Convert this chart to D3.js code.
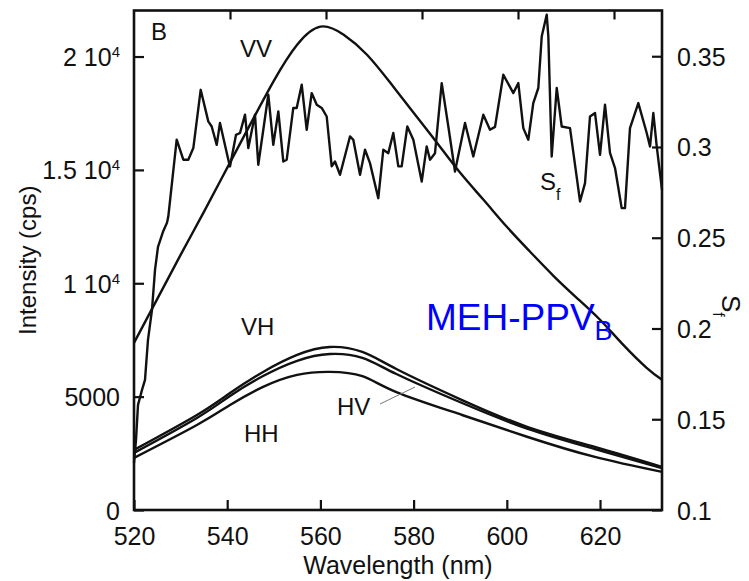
<!DOCTYPE html>
<html>
<head>
<meta charset="utf-8">
<script src="https://cdn.jsdelivr.net/npm/d3@7"></script>
<style>
  html, body { margin: 0; padding: 0; background: #fff; }
  svg text { font-family: "Liberation Sans", Arial, Helvetica, sans-serif; fill: #111; }
</style>
</head>
<body>
<svg id="chart" width="749" height="581"></svg>
<script>
// ---------------- DATA ----------------
const bottomTicks = [520, 540, 560, 580, 600, 620];
const topTicks = [540, 560, 580, 600, 620];
const leftTicks = [0, 5000, 10000, 15000, 20000];
const leftTickLabels = [["0", ""], ["5000", ""], ["1 10", "4"], ["1.5 10", "4"], ["2 10", "4"]];
const rightTicks = [0.1, 0.15, 0.2, 0.25, 0.3, 0.35];
const rightTickLabels = ["0.1", "0.15", "0.2", "0.25", "0.3", "0.35"];

// VV intensity (cps)
const vvWavelength = [520, 525, 530, 535, 540, 545, 550, 555, 560, 565, 570, 575, 580, 585, 590, 595, 600, 605, 610, 615, 620, 625, 630, 633.3];
const vvIntensity = [7370, 9310, 11250, 13150, 15090, 17030, 18930, 20520, 21320, 20960, 20080, 18840, 17520, 16200, 14870, 13680, 12490, 11390, 10330, 9360, 8390, 7280, 6270, 5740];

// VH, HV, HH intensity (cps)
const lowWavelength = [520, 533.5, 540.6, 547.7, 555, 562, 569, 576.3, 590.4, 604.5, 618.9, 633.3];
const vhIntensity = [2650, 4190, 5160, 6090, 6840, 7190, 6970, 6220, 4850, 3660, 2780, 1900];
const hvIntensity = [2520, 4060, 5030, 5910, 6580, 6880, 6710, 6000, 4720, 3580, 2690, 1850];
const hhIntensity = [2300, 3750, 4630, 5430, 5960, 6090, 5900, 5200, 4190, 3220, 2340, 1680];

// Sf (right axis)
const sfWavelength = [520.0, 520.43, 520.86, 521.72, 522.36, 523.0, 523.86, 524.51, 525.15, 526.22, 527.08, 527.36, 529.16, 530.58, 531.65, 532.73, 534.31, 535.94, 536.67, 537.75, 538.45, 540.24, 540.6, 541.89, 542.75, 543.82, 544.53, 545.96, 546.67, 548.82, 549.89, 550.97, 552.04, 552.77, 554.18, 554.91, 555.99, 557.06, 558.13, 559.21, 560.28, 561.35, 562.42, 563.13, 564.21, 566.35, 567.06, 568.5, 569.57, 570.64, 572.42, 573.5, 574.57, 575.64, 576.72, 577.44, 578.65, 579.94, 581.74, 582.81, 583.52, 584.59, 586.03, 587.45, 588.88, 591.03, 592.81, 594.96, 596.39, 597.47, 599.25, 601.4, 602.47, 603.54, 604.61, 605.68, 606.76, 607.49, 608.56, 608.91, 609.63, 610.71, 611.78, 613.56, 615.71, 616.78, 617.85, 618.93, 620.0, 621.07, 622.14, 623.22, 624.65, 625.36, 626.43, 628.22, 630.02, 630.73, 631.44, 632.17, 633.3];
const sfValue = [0.1259, 0.1386, 0.1579, 0.1662, 0.1717, 0.1937, 0.2103, 0.2323, 0.2450, 0.2533, 0.2582, 0.2617, 0.3040, 0.2930, 0.2930, 0.2994, 0.3315, 0.3141, 0.3113, 0.3012, 0.3132, 0.2930, 0.2893, 0.3067, 0.3077, 0.3178, 0.2994, 0.3178, 0.2902, 0.3288, 0.3012, 0.3196, 0.2920, 0.2930, 0.3215, 0.3215, 0.3343, 0.3095, 0.3297, 0.3233, 0.3215, 0.3168, 0.2893, 0.2920, 0.2847, 0.3058, 0.3040, 0.2847, 0.2985, 0.2911, 0.2718, 0.2985, 0.2966, 0.3077, 0.2893, 0.2893, 0.3113, 0.3040, 0.2810, 0.3003, 0.2930, 0.2966, 0.3352, 0.3113, 0.2865, 0.3132, 0.2948, 0.3178, 0.3095, 0.3111, 0.3398, 0.3297, 0.3352, 0.3104, 0.3040, 0.3242, 0.3325, 0.3609, 0.3729, 0.3609, 0.2948, 0.3325, 0.3113, 0.3104, 0.2700, 0.2801, 0.3168, 0.3187, 0.2957, 0.3233, 0.2967, 0.2884, 0.2663, 0.2663, 0.3104, 0.3242, 0.3077, 0.3003, 0.3187, 0.3003, 0.2764];

// ---------------- LAYOUT ----------------
const L = 134, R = 662, T = 10.5, B = 510;
const svg = d3.select("#chart");

const x = d3.scaleLinear().domain([520, 633.3]).range([L, R]);
const xTop = d3.scaleLinear().domain([520, 630]).range([L, R]);
const y = d3.scaleLinear().domain([0, 22030]).range([B, T]);
const y2 = d3.scaleLinear().domain([0.1, 0.3752]).range([B, T]);

const fontSize = 24;
const tickFont = 25;

// Axes
const gBottom = svg.append("g").attr("transform", `translate(0,${B})`)
  .call(d3.axisBottom(x).tickValues(bottomTicks).tickSizeInner(-10).tickSizeOuter(0).tickPadding(17).tickFormat(d3.format("d")));
const gTop = svg.append("g").attr("transform", `translate(0,${T})`)
  .call(d3.axisTop(xTop).tickValues(topTicks).tickSizeInner(-9).tickSizeOuter(0).tickFormat(""));
const gLeft = svg.append("g").attr("transform", `translate(${L},0)`)
  .call(d3.axisLeft(y).tickValues(leftTicks).tickSizeInner(-10).tickSizeOuter(0).tickPadding(14).tickFormat(""));
const gRight = svg.append("g").attr("transform", `translate(${R},0)`)
  .call(d3.axisRight(y2).tickValues(rightTicks).tickSizeInner(-10).tickSizeOuter(0).tickPadding(15)
    .tickFormat((d, i) => rightTickLabels[i]));

[gBottom, gTop, gLeft, gRight].forEach(g => {
  g.select(".domain").remove();
  g.selectAll(".tick line").attr("stroke", "#111").attr("stroke-width", 2.2);
  g.selectAll("text").attr("font-size", tickFont).attr("font-family", "Liberation Sans, Arial, sans-serif").attr("fill", "#111");
});
gRight.selectAll("text").attr("dy", "0.36em");

// Left labels with superscripts
gLeft.selectAll(".tick text").each(function(d, i) {
  const t = d3.select(this);
  t.text(null).attr("dy", "0.36em");
  t.append("tspan").text(leftTickLabels[i][0]);
  if (leftTickLabels[i][1]) {
    t.append("tspan").attr("font-size", 15).attr("dy", "-9").text(leftTickLabels[i][1]);
  }
});

// Frame
svg.append("rect").attr("x", L).attr("y", T).attr("width", R - L).attr("height", B - T)
  .attr("fill", "none").attr("stroke", "#111").attr("stroke-width", 2.6);

// Lines
const plot = svg.append("g");
const smooth = d3.line().curve(d3.curveNatural);
function drawSmooth(xs, ys) {
  plot.append("path")
    .attr("d", smooth(xs.map((w, i) => [x(w), y(ys[i])])))
    .attr("fill", "none").attr("stroke", "#111").attr("stroke-width", 2.4).attr("stroke-linejoin", "round");
}
drawSmooth(vvWavelength, vvIntensity);
drawSmooth(lowWavelength, vhIntensity);
drawSmooth(lowWavelength, hvIntensity);
drawSmooth(lowWavelength, hhIntensity);

plot.append("path")
  .attr("d", d3.line()(sfWavelength.map((w, i) => [x(w), y2(sfValue[i])])))
  .attr("fill", "none").attr("stroke", "#111").attr("stroke-width", 2.4).attr("stroke-linejoin", "round");

// Annotations
function label(txt, px, py, size) {
  svg.append("text").attr("x", px).attr("y", py).attr("font-size", size || fontSize).text(txt);
}
label("B", 151, 40, 24);
label("VV", 240, 57);
label("VH", 241, 335);
label("HV", 337, 415);
label("HH", 244, 442);

// HV leader line
svg.append("line").attr("x1", 380).attr("y1", 404).attr("x2", 415).attr("y2", 387)
  .attr("stroke", "#777").attr("stroke-width", 1);

// S_f label on plot
const sf = svg.append("text").attr("x", 540).attr("y", 190).attr("font-size", fontSize);
sf.append("tspan").text("S");
sf.append("tspan").attr("font-size", 16).attr("dy", 10).text("f");

// Axis titles
svg.append("text").attr("transform", `translate(36,${(T + B) / 2}) rotate(-90)`)
  .attr("text-anchor", "middle").attr("font-size", fontSize).text("Intensity (cps)");
svg.append("text").attr("x", (L + R) / 2 - 0).attr("y", 574)
  .attr("text-anchor", "middle").attr("font-size", fontSize + 1).text("Wavelength (nm)");
const sfTitle = svg.append("text").attr("transform", `translate(722,295) rotate(90)`).attr("font-size", fontSize + 2);
sfTitle.append("tspan").text("S");
sfTitle.append("tspan").attr("font-size", 16).attr("dy", 9).text("f");

// MEH-PPV_B
const meh = svg.append("text").attr("x", 426).attr("y", 330)
  .attr("font-family", "Lato, 'Open Sans', sans-serif").attr("font-size", 37).style("fill", "#0000ff");
meh.append("tspan").text("MEH-PPV");
meh.append("tspan").attr("font-size", 27).attr("dy", 10).text("B");
</script>
</body>
</html>
